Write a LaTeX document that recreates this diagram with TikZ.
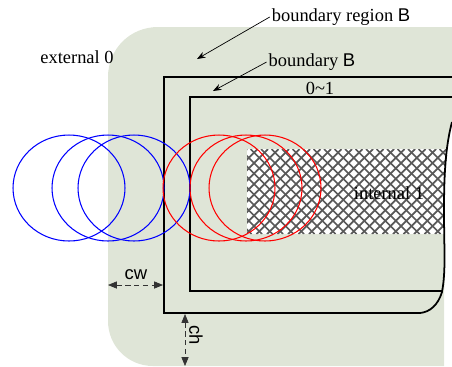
\documentclass[tikz,border=0pt]{standalone}
\usepackage{fontspec}
\setmainfont{Liberation Serif}
\setsansfont{Liberation Sans}
\usetikzlibrary{arrows.meta}
\definecolor{bggreen}{HTML}{DFE5D7}

\begin{document}
\begin{tikzpicture}[
    x=0.02cm, y=-0.02cm,
    font=\fontsize{10.5}{12}\selectfont,
    >=Stealth,
    bgzone/.style={fill=bggreen},
    frame/.style={draw=black, line width=1pt},
    lbl/.style={inner sep=1pt},
    arr/.style={->, thin, draw=black},
    dimarr/.style={{Triangle[length=5pt,width=4pt]}-{Triangle[length=5pt,width=4pt]}, densely dashed, draw=black!80},
    outcirc/.style={draw=blue, line width=0.6pt},
    incirc/.style={draw=red, line width=0.6pt},
    hatch/.style={draw=black!65, line width=1pt}
  ]

  \useasboundingbox (0,0) rectangle (452,366);

  % --- BOUNDARY REGION ---
  \fill[bgzone] (452,27) -- (158,27) .. controls (130,27) and (108,49) .. (108,77) -- (108,321) .. controls (108,346) and (128,366) .. (153,366) -- (444,366) -- (444,292) .. controls (446,270) and (444,250) .. (444,210) .. controls (444,170) and (446,145) .. (452,122) -- cycle;

  % --- INTERNAL (hatched) ---
  \begin{scope}
    \clip (247,149) -- (448,149) .. controls (445,170) and (444,190) .. (444,210) -- (444,234) -- (247,234) -- cycle;
    \fill[white] (247,149) rectangle (452,234);
    \foreach \hx in {156,166.5,...,460} { \draw[hatch] (\hx,149) -- ++(85,85); }
    \foreach \hx in {247,257.5,...,550} { \draw[hatch] (\hx,149) -- ++(-85,85); }
  \end{scope}

  % --- BOUNDARY LINES ---
  \draw[frame] (452,77) -- (164,77) -- (164,313) -- (420,313) .. controls (430,312) and (438,305) .. (442,292) .. controls (446,270) and (444,250) .. (444,210) .. controls (444,170) and (446,145) .. (452,122);
  \draw[frame] (452,97) -- (190,97) -- (190,291) -- (442,291);

  % --- CIRCLES ---
  \foreach \cx in {69,108,134} { \draw[outcirc] (\cx,188) ellipse [x radius=1.12cm, y radius=1.06cm]; }
  \foreach \cx in {219,246,265} { \draw[incirc] (\cx,188) ellipse [x radius=1.12cm, y radius=1.06cm]; }

  % --- LABELS ---
  \node[lbl] (ext) at (77,57) {external 0};
  \node[lbl] (reg) at (341,17) {boundary region \textsf{B}};
  \node[lbl] (bnd) at (312,62) {boundary \textsf{B}};
  \node[lbl] (mid) at (320,88) {0\textasciitilde1};
  \node[lbl] (int) at (389,193) {internal 1};

  \coordinate (regtip) at (197,59);
  \coordinate (bndtip) at (213,91);
  \draw[arr] (reg.west) -- (regtip);
  \draw[arr] (bnd.west) -- (bndtip);

  % --- WIDTHS ---
  \coordinate (cwl) at (108,285);
  \coordinate (cwr) at (163,285);
  \draw[dimarr] (cwl) -- (cwr);
  \node[lbl, font=\sffamily\fontsize{10.5}{12}\selectfont] (cwlab) at (136,275) {cw};

  \coordinate (cht) at (185,314);
  \coordinate (chb) at (185,366);
  \draw[dimarr] (cht) -- (chb);
  \node[lbl, rotate=-90, font=\sffamily\fontsize{10.5}{12}\selectfont] (chlab) at (196,335) {ch};

\end{tikzpicture}
\end{document}
